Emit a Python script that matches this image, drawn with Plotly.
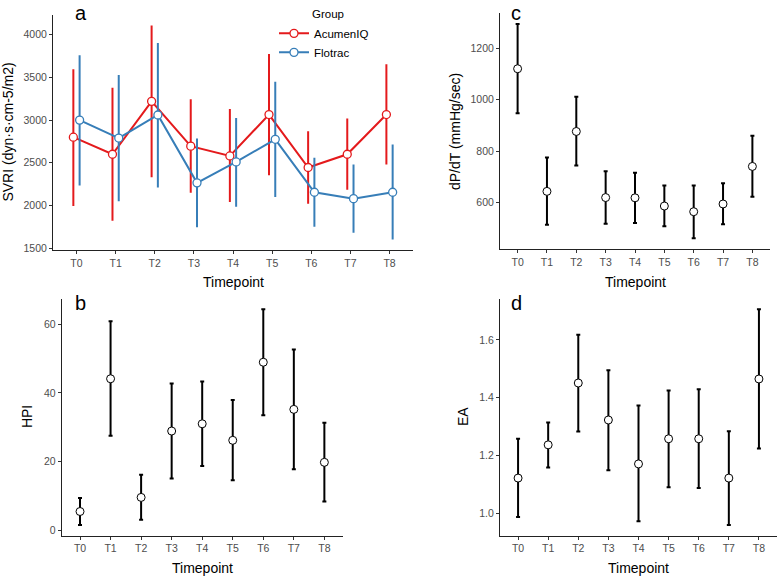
import numpy as np
import plotly.graph_objects as go

W, H = 778, 581

timepoints = ["T0", "T1", "T2", "T3", "T4", "T5", "T6", "T7", "T8"]

# Panel a: SVRI by group
svri_acumen_mean = [2800, 2600, 3220, 2695, 2580, 3065, 2445, 2600, 3065]
svri_acumen_low = [1995, 1820, 2330, 2150, 2040, 2355, 2020, 2185, 2480]
svri_acumen_high = [3595, 3380, 4110, 3245, 3130, 3775, 2870, 3020, 3655]
svri_flotrac_mean = [3000, 2790, 3060, 2265, 2510, 2775, 2155, 2080, 2155]
svri_flotrac_low = [2235, 2050, 2210, 1745, 1985, 2100, 1750, 1680, 1600]
svri_flotrac_high = [3760, 3530, 3905, 2785, 3025, 3450, 2560, 2480, 2715]

# Panel b: HPI
hpi_mean = [5.5, 44.1, 9.6, 28.9, 31.0, 26.2, 48.9, 35.2, 19.8]
hpi_low = [1.6, 27.5, 3.1, 15.1, 18.7, 14.6, 33.5, 17.8, 8.4]
hpi_high = [9.4, 60.8, 16.2, 42.7, 43.3, 37.9, 64.3, 52.6, 31.3]

# Panel c: dP/dT
dpdt_mean = [1120, 643, 876, 619, 618, 586, 564, 594, 740]
dpdt_low = [947, 513, 744, 517, 520, 507, 461, 515, 622]
dpdt_high = [1294, 775, 1011, 721, 715, 666, 666, 675, 859]

# Panel d: EA
ea_mean = [1.122, 1.237, 1.451, 1.323, 1.171, 1.258, 1.258, 1.122, 1.465]
ea_low = [0.987, 1.159, 1.283, 1.149, 0.973, 1.090, 1.088, 0.960, 1.224]
ea_high = [1.258, 1.314, 1.618, 1.495, 1.373, 1.425, 1.429, 1.284, 1.706]

RED = "#E41A1C"
BLUE = "#377EB8"
FONT = "Liberation Sans, Arial, sans-serif"
DODGE = 0.08

xi = np.arange(len(timepoints))


def px_x(p):
    return p / W


def px_y(p):
    return 1 - p / H


def err(mean, low, high):
    m = np.array(mean, dtype=float)
    return dict(type="data", symmetric=False,
                array=list(np.array(high) - m), arrayminus=list(m - np.array(low)))


fig = go.Figure()

# Panel a
for name, mean, low, high, color, off in [
    ("AcumenIQ", svri_acumen_mean, svri_acumen_low, svri_acumen_high, RED, -DODGE),
    ("Flotrac", svri_flotrac_mean, svri_flotrac_low, svri_flotrac_high, BLUE, DODGE),
]:
    e = err(mean, low, high)
    e.update(color=color, thickness=2, width=0)
    fig.add_trace(go.Scatter(
        x=xi + off, y=mean, mode="lines+markers", name=name,
        line=dict(color=color, width=2),
        marker=dict(size=8, color="white", line=dict(color=color, width=1.3)),
        error_y=e, xaxis="x", yaxis="y", showlegend=True,
    ))

# Panels b, c, d
for (mean, low, high, xa, ya) in [
    (hpi_mean, hpi_low, hpi_high, "x2", "y2"),
    (dpdt_mean, dpdt_low, dpdt_high, "x3", "y3"),
    (ea_mean, ea_low, ea_high, "x4", "y4"),
]:
    e = err(mean, low, high)
    e.update(color="black", thickness=2, width=2)
    fig.add_trace(go.Scatter(
        x=xi, y=mean, mode="markers", showlegend=False,
        marker=dict(size=8, color="white", line=dict(color="black", width=1)),
        error_y=e, xaxis=xa, yaxis=ya,
    ))

axis_common = dict(showline=True, linecolor="#222222", linewidth=1, ticks="outside",
                   ticklen=3, tickcolor="#333333", tickwidth=1, showgrid=False,
                   zeroline=False, tickfont=dict(family=FONT, size=10.5, color="#4D4D4D"))


def xaxis(domain, anchor):
    d = dict(axis_common)
    d.update(domain=domain, anchor=anchor, range=[-0.6, 8.6],
             tickmode="array", tickvals=list(xi), ticktext=timepoints)
    return d


def yaxis(domain, anchor, rng, tickvals, ticktext):
    d = dict(axis_common)
    d.update(domain=domain, anchor=anchor, range=rng, tickmode="array",
             tickvals=tickvals, ticktext=ticktext)
    return d


dom_a_x = [px_x(53), px_x(413)]
dom_a_y = [px_y(252), px_y(15)]
dom_b_x = [px_x(61.7), px_x(342.7)]
dom_b_y = [px_y(539.3), px_y(300.7)]
dom_c_x = [px_x(500), px_x(770)]
dom_c_y = [px_y(250.7), px_y(13.3)]
dom_d_x = [px_x(500), px_x(777)]
dom_d_y = [px_y(539.3), px_y(300.7)]

fig.update_layout(
    width=W, height=H, margin=dict(l=0, r=0, t=0, b=0),
    plot_bgcolor="white", paper_bgcolor="white",
    font=dict(family=FONT),
    xaxis=xaxis(dom_a_x, "y"),
    yaxis=yaxis(dom_a_y, "x", [1475, 4233], [1500, 2000, 2500, 3000, 3500, 4000],
                ["1500", "2000", "2500", "3000", "3500", "4000"]),
    xaxis2=xaxis(dom_b_x, "y2"),
    yaxis2=yaxis(dom_b_y, "x2", [-1.5, 67.4], [0, 20, 40, 60], ["0", "20", "40", "60"]),
    xaxis3=xaxis(dom_c_x, "y3"),
    yaxis3=yaxis(dom_c_y, "x3", [419, 1336], [600, 800, 1000, 1200], ["600", "800", "1000", "1200"]),
    xaxis4=xaxis(dom_d_x, "y4"),
    yaxis4=yaxis(dom_d_y, "x4", [0.923, 1.743], [1.0, 1.2, 1.4, 1.6], ["1.0", "1.2", "1.4", "1.6"]),
    legend=dict(x=px_x(274), y=px_y(19), xanchor="left", yanchor="top",
                bgcolor="rgba(0,0,0,0)", font=dict(family=FONT, size=11.5, color="black"),
                itemwidth=30, tracegroupgap=0),
)

ann = []


def text(s, x, y, size, rot=0, color="black", yanchor="middle"):
    ann.append(dict(text=s, x=px_x(x), y=px_y(y), xref="paper", yref="paper",
                    showarrow=False, xanchor="center", yanchor=yanchor, textangle=rot,
                    font=dict(family=FONT, size=size, color=color)))


# panel letters
text("a", 81, 0, 20, yanchor="top")
text("b", 80, 305, 20)
text("c", 516, 0, 20, yanchor="top")
text("d", 516, 305, 20)
# axis titles
text("Timepoint", 233, 284, 14)
text("Timepoint", 202, 572, 14)
text("Timepoint", 635, 284, 14)
text("Timepoint", 638.5, 572, 14)
text("SVRI (dyn·s·cm-5/m2)", 8, 133.5, 14, rot=-90)
text("HPI", 27, 420, 14, rot=-90)
text("dP/dT (mmHg/sec)", 455, 132, 14, rot=-90)
text("EA", 463, 420, 14, rot=-90)
# legend title
text("Group", 327.5, 14, 11.5)

fig.update_layout(annotations=ann)
fig.write_html("out.html", config={"displayModeBar": False},
               post_script="document.body.style.margin='0px';document.body.style.overflow='hidden';")
